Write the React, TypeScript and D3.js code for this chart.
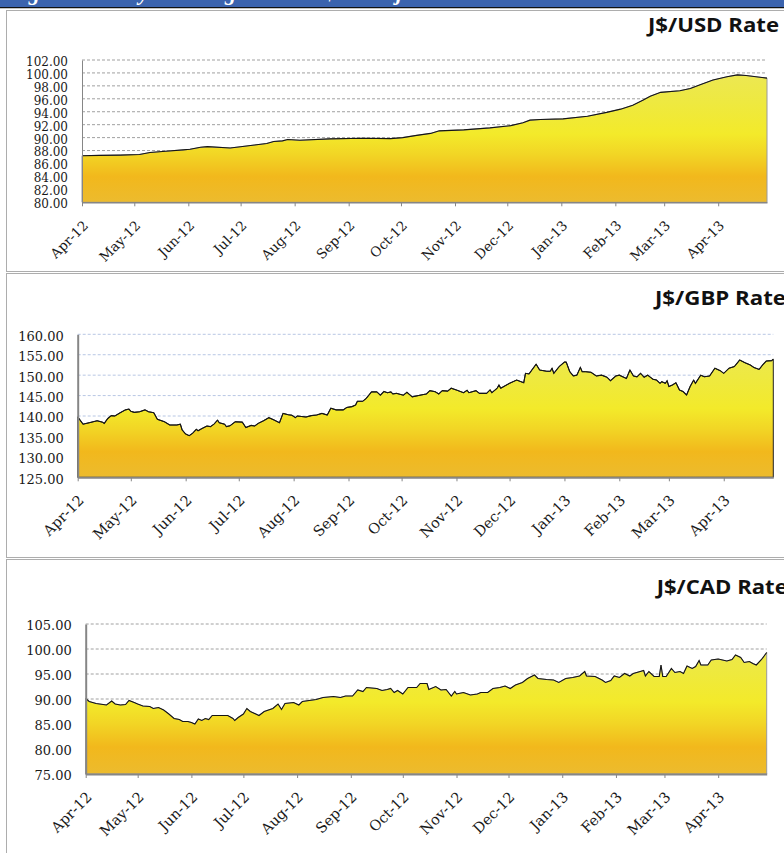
import React, { useEffect, useRef } from "react";
import * as d3 from "d3";

// ---- data ----
const axisStart = "2012-04-01";
const axisEnd = "2013-04-29";
const monthTicks = [
  "2012-04-01", "2012-05-01", "2012-06-01", "2012-07-01", "2012-08-01", "2012-09-01",
  "2012-10-01", "2012-11-01", "2012-12-01", "2013-01-01", "2013-02-01", "2013-03-01", "2013-04-01",
];

const usdTicks = [80, 82, 84, 86, 88, 90, 92, 94, 96, 98, 100, 102];
const gbpTicks = [125, 130, 135, 140, 145, 150, 155, 160];
const cadTicks = [75, 80, 85, 90, 95, 100, 105];

const usdDates = [
  "2012-04-01", "2012-04-11", "2012-04-23", "2012-05-04", "2012-05-10", "2012-05-19", "2012-05-29",
  "2012-06-02", "2012-06-08", "2012-06-12", "2012-06-25", "2012-07-01", "2012-07-09", "2012-07-16",
  "2012-07-20", "2012-07-25", "2012-07-28", "2012-08-04", "2012-08-21", "2012-09-09", "2012-09-25",
  "2012-10-02", "2012-10-10", "2012-10-18", "2012-10-23", "2012-11-06", "2012-11-21", "2012-12-03",
  "2012-12-10", "2012-12-14", "2012-12-20", "2013-01-02", "2013-01-16", "2013-01-27", "2013-02-04",
  "2013-02-11", "2013-02-17", "2013-02-21", "2013-02-27", "2013-03-10", "2013-03-16", "2013-03-22",
  "2013-03-29", "2013-04-06", "2013-04-12", "2013-04-17", "2013-04-29",
];
const usdRates = [
  87.2, 87.25, 87.3, 87.4, 87.7, 87.9, 88.1,
  88.2, 88.5, 88.6, 88.4, 88.6, 88.85, 89.1,
  89.4, 89.5, 89.7, 89.6, 89.8, 89.9, 89.85,
  90.0, 90.35, 90.65, 91.05, 91.2, 91.5, 91.85,
  92.3, 92.7, 92.8, 92.9, 93.3, 93.9, 94.4,
  95.0, 95.8, 96.4, 97.0, 97.25, 97.6, 98.2,
  98.9, 99.4, 99.7, 99.6, 99.2,
];

const gbpDates = [
  "2012-04-01", "2012-04-04", "2012-04-08", "2012-04-12", "2012-04-15", "2012-04-16", "2012-04-18",
  "2012-04-20", "2012-04-22", "2012-04-25", "2012-04-28", "2012-04-30", "2012-05-01", "2012-05-03",
  "2012-05-06", "2012-05-09", "2012-05-11", "2012-05-14", "2012-05-16", "2012-05-20", "2012-05-23",
  "2012-05-27", "2012-05-29", "2012-05-30", "2012-06-01", "2012-06-03", "2012-06-05", "2012-06-07",
  "2012-06-08", "2012-06-10", "2012-06-13", "2012-06-15", "2012-06-17", "2012-06-19", "2012-06-20",
  "2012-06-23", "2012-06-24", "2012-06-26", "2012-06-29", "2012-07-03", "2012-07-05", "2012-07-08",
  "2012-07-10", "2012-07-12", "2012-07-15", "2012-07-18", "2012-07-21", "2012-07-24", "2012-07-26",
  "2012-07-29", "2012-07-31", "2012-08-02", "2012-08-03", "2012-08-08", "2012-08-11", "2012-08-14",
  "2012-08-17", "2012-08-20", "2012-08-22", "2012-08-25", "2012-08-29", "2012-08-31", "2012-09-03",
  "2012-09-05", "2012-09-06", "2012-09-09", "2012-09-11", "2012-09-14", "2012-09-17", "2012-09-19",
  "2012-09-21", "2012-09-23", "2012-09-25", "2012-09-26", "2012-09-28", "2012-10-02", "2012-10-04",
  "2012-10-07", "2012-10-12", "2012-10-15", "2012-10-17", "2012-10-20", "2012-10-22", "2012-10-24",
  "2012-10-27", "2012-10-29", "2012-11-01", "2012-11-05", "2012-11-07", "2012-11-08", "2012-11-12",
  "2012-11-14", "2012-11-18", "2012-11-20", "2012-11-21", "2012-11-24", "2012-11-25", "2012-11-26",
  "2012-12-01", "2012-12-05", "2012-12-09", "2012-12-10", "2012-12-12", "2012-12-16", "2012-12-18",
  "2012-12-22", "2012-12-24", "2012-12-25", "2012-12-26", "2012-12-29", "2013-01-01", "2013-01-02",
  "2013-01-04", "2013-01-06", "2013-01-08", "2013-01-10", "2013-01-11", "2013-01-13", "2013-01-16",
  "2013-01-19", "2013-01-22", "2013-01-25", "2013-01-27", "2013-01-30", "2013-02-01", "2013-02-05",
  "2013-02-07", "2013-02-09", "2013-02-11", "2013-02-13", "2013-02-15", "2013-02-17", "2013-02-20",
  "2013-02-22", "2013-02-24", "2013-02-25", "2013-02-27", "2013-02-28", "2013-03-01", "2013-03-03",
  "2013-03-05", "2013-03-07", "2013-03-09", "2013-03-11", "2013-03-13", "2013-03-15", "2013-03-16",
  "2013-03-19", "2013-03-21", "2013-03-24", "2013-03-27", "2013-03-30", "2013-04-01", "2013-04-04",
  "2013-04-07", "2013-04-10", "2013-04-13", "2013-04-16", "2013-04-18", "2013-04-21", "2013-04-23",
  "2013-04-25", "2013-04-28", "2013-04-29",
];
const gbpRates = [
  139.8, 138.0, 138.4, 138.85, 138.5, 138.2, 139.4,
  140.1, 140.0, 140.8, 141.5, 141.7, 141.15, 140.9,
  141.05, 141.5, 141.05, 140.8, 139.2, 138.6, 137.8,
  137.8, 138.0, 136.6, 135.6, 135.2, 135.8, 136.75,
  136.4, 136.9, 137.55, 137.4, 138.0, 139.0, 138.35,
  138.0, 137.4, 137.6, 138.6, 138.5, 137.2, 137.7,
  137.55, 138.2, 138.85, 139.6, 139.0, 138.35, 140.65,
  140.3, 140.2, 139.6, 140.0, 139.75, 140.1, 140.25,
  140.65, 140.25, 141.9, 141.5, 141.5, 142.1, 142.3,
  142.7, 143.6, 143.6, 144.3, 145.9, 145.9, 145.1,
  146.0, 145.7, 145.9, 145.4, 145.55, 145.1, 145.8,
  144.7, 145.15, 145.4, 146.2, 145.95, 145.4, 146.2,
  146.1, 146.8, 146.35, 145.7, 146.3, 145.7, 146.2,
  145.55, 145.55, 146.4, 145.7, 146.8, 147.6, 146.8,
  148.0, 148.8, 148.15, 150.45, 150.3, 152.7, 151.25,
  150.95, 150.95, 151.7, 150.45, 152.1, 153.2, 153.2,
  150.85, 149.8, 150.0, 151.9, 150.85, 150.85, 150.7,
  149.8, 150.0, 149.5, 148.65, 149.8, 150.0, 149.2,
  151.25, 149.8, 149.6, 150.45, 149.5, 150.0, 149.0,
  148.8, 148.0, 148.4, 148.0, 148.65, 147.2, 147.6,
  148.15, 146.35, 146.0, 145.15, 147.2, 148.8, 148.0,
  150.0, 149.6, 149.8, 151.7, 151.1, 150.45, 151.7,
  152.1, 153.7, 153.05, 152.5, 151.9, 151.4, 152.5,
  153.45, 153.55, 153.9,
];

const cadDates = [
  "2012-04-01", "2012-04-03", "2012-04-07", "2012-04-13", "2012-04-16", "2012-04-18", "2012-04-21",
  "2012-04-24", "2012-04-26", "2012-04-29", "2012-05-01", "2012-05-04", "2012-05-08", "2012-05-10",
  "2012-05-13", "2012-05-16", "2012-05-19", "2012-05-22", "2012-05-25", "2012-05-27", "2012-05-30",
  "2012-06-01", "2012-06-03", "2012-06-05", "2012-06-07", "2012-06-09", "2012-06-11", "2012-06-13",
  "2012-06-16", "2012-06-22", "2012-06-25", "2012-06-26", "2012-06-28", "2012-07-01", "2012-07-03",
  "2012-07-05", "2012-07-10", "2012-07-13", "2012-07-18", "2012-07-21", "2012-07-23", "2012-07-25",
  "2012-07-30", "2012-08-02", "2012-08-04", "2012-08-12", "2012-08-16", "2012-08-22", "2012-08-26",
  "2012-08-29", "2012-09-02", "2012-09-05", "2012-09-08", "2012-09-10", "2012-09-16", "2012-09-19",
  "2012-09-22", "2012-09-24", "2012-09-26", "2012-09-28", "2012-10-01", "2012-10-04", "2012-10-09",
  "2012-10-11", "2012-10-15", "2012-10-16", "2012-10-20", "2012-10-23", "2012-10-26", "2012-10-29",
  "2012-10-31", "2012-11-01", "2012-11-05", "2012-11-09", "2012-11-13", "2012-11-15", "2012-11-19",
  "2012-11-22", "2012-11-26", "2012-11-29", "2012-12-02", "2012-12-05", "2012-12-09", "2012-12-12",
  "2012-12-16", "2012-12-18", "2012-12-23", "2012-12-27", "2012-12-30", "2013-01-03", "2013-01-07",
  "2013-01-11", "2013-01-14", "2013-01-15", "2013-01-20", "2013-01-24", "2013-01-26", "2013-01-29",
  "2013-01-31", "2013-02-03", "2013-02-06", "2013-02-09", "2013-02-11", "2013-02-15", "2013-02-17",
  "2013-02-18", "2013-02-20", "2013-02-23", "2013-02-26", "2013-02-27", "2013-02-28", "2013-03-02",
  "2013-03-05", "2013-03-07", "2013-03-10", "2013-03-12", "2013-03-14", "2013-03-17", "2013-03-19",
  "2013-03-21", "2013-03-22", "2013-03-26", "2013-03-28", "2013-04-01", "2013-04-06", "2013-04-09",
  "2013-04-11", "2013-04-14", "2013-04-16", "2013-04-19", "2013-04-21", "2013-04-23", "2013-04-26",
  "2013-04-29",
];
const cadRates = [
  90.1, 89.5, 89.1, 88.8, 89.6, 89.0, 88.8,
  88.9, 89.7, 89.3, 89.0, 88.6, 88.5, 88.1,
  88.3, 87.8, 87.0, 86.1, 85.9, 85.5, 85.5,
  85.3, 85.0, 86.0, 85.7, 86.1, 85.9, 86.7,
  86.7, 86.7, 86.1, 85.7, 86.3, 87.0, 88.1,
  87.5, 86.7, 87.5, 88.1, 89.0, 87.9, 89.1,
  89.3, 88.8, 89.5, 89.9, 90.3, 90.5, 90.3,
  90.6, 90.6, 91.8, 91.5, 92.3, 92.1, 91.7,
  91.9, 92.1, 91.3, 91.7, 91.0, 92.3, 92.3,
  93.1, 93.1, 91.9, 92.5, 91.8, 91.9, 90.6,
  91.5, 91.0, 91.3, 90.8, 91.0, 91.3, 91.3,
  92.1, 92.3, 92.6, 92.1, 92.8, 93.3, 94.1,
  94.8, 94.1, 93.9, 93.8, 93.3, 94.1, 94.3,
  94.6, 95.5, 94.6, 94.5, 93.8, 93.3, 93.7,
  94.6, 94.3, 95.1, 94.6, 95.1, 95.5, 95.7,
  94.6, 95.5, 94.5, 94.5, 96.8, 94.5, 94.5,
  96.1, 95.3, 95.5, 95.1, 96.6, 96.1, 96.5,
  97.7, 96.8, 96.8, 97.8, 98.0, 97.6, 97.9,
  98.8, 98.3, 97.3, 97.5, 97.1, 96.8, 97.9,
  99.3,
];

// ---- layout of the three panels ----
const panels = [
  { title: "J$/USD Rate", dates: usdDates, values: usdRates, ticks: usdTicks,
    left: 82, right: 767, top: 60, bottom: 202.3, font: 12, xFont: 13.5, titleX: 648, titleY: 32,
    grid: "#a0a0a0", yAxisW: 1, xAxisW: 1.5, edge: "#9a9a9a" },
  { title: "J$/GBP Rate", dates: gbpDates, values: gbpRates, ticks: gbpTicks,
    left: 77.7, right: 773.3, top: 334.3, bottom: 477.3, font: 13, xFont: 14.5, titleX: 655, titleY: 305,
    grid: "#b8c7e4", yAxisW: 2, xAxisW: 2, edge: "#222" },
  { title: "J$/CAD Rate", dates: cadDates, values: cadRates, ticks: cadTicks,
    left: 85.7, right: 766.7, top: 624, bottom: 774, font: 13, xFont: 14.5, titleX: 656.7, titleY: 594,
    grid: "#a0a0a0", yAxisW: 2, xAxisW: 2, edge: "#9a9a9a" },
];

const parseDay = d3.timeParse("%Y-%m-%d");
const monthLabel = d3.timeFormat("%b-%y");
const serif = "'DejaVu Serif', serif";

const App = () => {
  const svgRef = useRef(null);

  useEffect(() => {
    document.body.style.margin = "0";
    const svg = d3.select(svgRef.current);
    svg.selectAll("*").remove();

    // header strip (its caption is cut off at the top of the page)
    svg.append("rect").attr("x", 0).attr("y", 0).attr("width", 784).attr("height", 7).attr("fill", "#3b63ae");
    svg.append("text").attr("x", 8).attr("y", 0.3)
      .attr("font-family", "'Liberation Serif', serif").attr("font-style", "italic").attr("font-weight", "bold")
      .attr("font-size", 22).attr("fill", "#fff")
      .text("Figure 5: Daily Exchange Rates: J$ vs Major Currencies");
    svg.append("line").attr("x1", 0).attr("x2", 784).attr("y1", 7.6).attr("y2", 7.6)
      .attr("stroke", "#111").attr("stroke-width", 1.3);

    // panel frames
    const frame = "#adadad";
    [[10.5, 271.5], [273.5, 557.5], [559.5, 900]].forEach(([t, b]) => {
      svg.append("rect").attr("x", 6.5).attr("y", t).attr("width", 820).attr("height", b - t)
        .attr("fill", "none").attr("stroke", frame);
    });

    panels.forEach((p, i) => {
      const x = d3.scaleTime().domain([parseDay(axisStart), parseDay(axisEnd)]).range([p.left, p.right]);
      const y = d3.scaleLinear().domain(d3.extent(p.ticks)).range([p.bottom, p.top]);
      const pts = p.dates.map((d, k) => ({ date: parseDay(d), v: p.values[k] }));

      const gid = `gold${i}`;
      const grad = svg.append("defs").append("linearGradient").attr("id", gid)
        .attr("gradientUnits", "userSpaceOnUse")
        .attr("x1", 0).attr("x2", 0).attr("y1", p.top).attr("y2", p.bottom);
      [[0, "#ebe75c"], [0.3, "#eee940"], [0.52, "#f3ea2a"], [0.66, "#f2d625"], [0.82, "#f2b81c"], [1, "#ecbb2e"]]
        .forEach(([o, c]) => grad.append("stop").attr("offset", o).attr("stop-color", c));

      // gridlines
      svg.append("g").selectAll("line").data(p.ticks.slice(1)).join("line")
        .attr("x1", p.left).attr("x2", p.right)
        .attr("y1", (d) => y(d)).attr("y2", (d) => y(d))
        .attr("stroke", p.grid).attr("stroke-width", 1).attr("stroke-dasharray", "3,2");

      // area + line
      const area = d3.area().x((d) => x(d.date)).y0(p.bottom).y1((d) => y(d.v));
      svg.append("path").datum(pts).attr("d", area)
        .attr("fill", `url(#${gid})`).attr("stroke", p.edge).attr("stroke-width", 1);
      const line = d3.line().x((d) => x(d.date)).y((d) => y(d.v));
      svg.append("path").datum(pts).attr("d", line)
        .attr("fill", "none").attr("stroke", "#151515").attr("stroke-width", 1.1);

      // y axis
      const ya = svg.append("g").attr("transform", `translate(${p.left},0)`)
        .call(d3.axisLeft(y).tickValues(p.ticks).tickFormat(d3.format(".2f")).tickSize(0).tickPadding(14));
      ya.select(".domain").attr("stroke", "#868686").attr("stroke-width", p.yAxisW);
      ya.selectAll("text").attr("font-family", serif).attr("font-size", p.font)
        .attr("fill", "#1a1a1a").attr("dy", "0.45em");

      // x axis
      const xa = svg.append("g").attr("transform", `translate(0,${p.bottom})`)
        .call(d3.axisBottom(x).tickValues(monthTicks.map(parseDay)).tickSizeInner(4).tickSizeOuter(0).tickFormat(() => ""));
      xa.select(".domain").attr("stroke", "#868686").attr("stroke-width", p.xAxisW);
      xa.selectAll(".tick line").attr("stroke", "#868686");

      svg.append("g").selectAll("text").data(monthTicks).join("text")
        .attr("transform", (d) => `translate(${x(parseDay(d)) + 7},${p.bottom + 24}) rotate(-45)`)
        .attr("text-anchor", "end")
        .attr("font-family", serif).attr("font-size", p.xFont).attr("fill", "#1a1a1a")
        .text((d) => monthLabel(parseDay(d)));

      // title
      svg.append("text").attr("x", p.titleX).attr("y", p.titleY)
        .attr("font-family", "'Open Sans', sans-serif").attr("font-weight", "bold")
        .attr("font-size", 20).attr("fill", "#111")
        .attr("textLength", 131).attr("lengthAdjust", "spacingAndGlyphs")
        .text(p.title);
    });

    return () => {
      d3.select(svgRef.current).selectAll("*").remove();
    };
  }, []);

  return <svg ref={svgRef} width={784} height={853} style={{ display: "block", background: "#fff" }} />;
};

export default App;
